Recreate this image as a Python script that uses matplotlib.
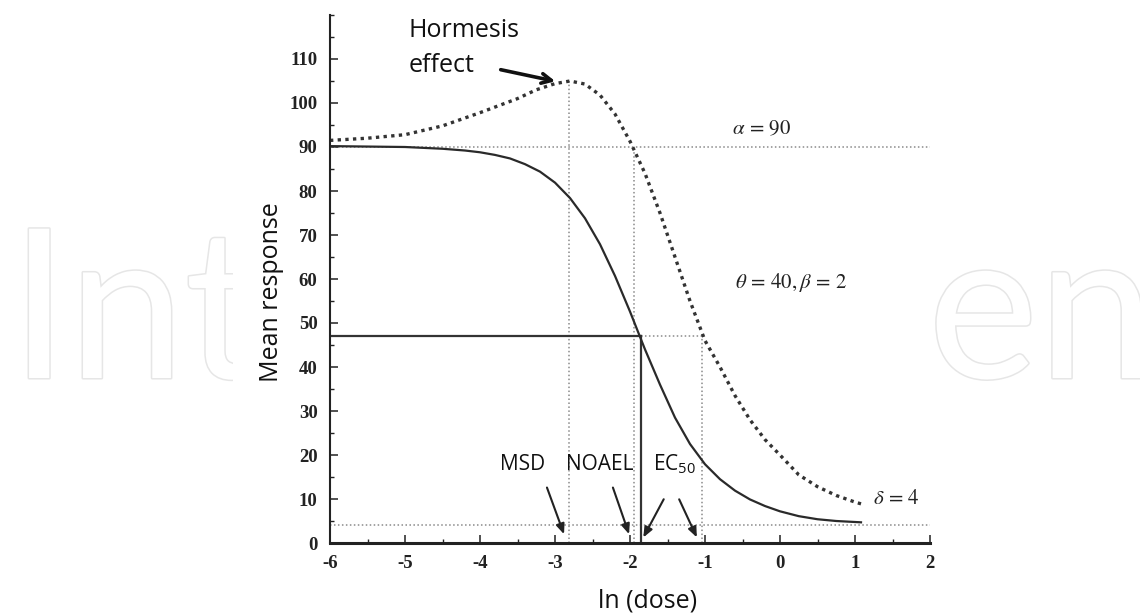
import matplotlib
matplotlib.use("Agg")
import matplotlib.pyplot as plt
import matplotlib.patheffects as pe
from matplotlib.ticker import MultipleLocator

plt.rcParams["axes.unicode_minus"] = False

# curves (x = ln dose, y = mean response)
logistic_x = [-6, -5.5, -5, -4.5, -4.2, -4.0, -3.8, -3.6, -3.4, -3.2, -3.0, -2.8, -2.6,
              -2.4, -2.2, -2.0, -1.87, -1.8, -1.6, -1.4, -1.2, -1.0, -0.8, -0.6,
              -0.4, -0.2, 0, 0.25, 0.5, 0.75, 1.08]
logistic_y = [90.2, 90.1, 90.0, 89.6, 89.2, 88.8, 88.2, 87.4, 86.1, 84.4, 81.9, 78.4, 73.8,
              67.9, 60.7, 52.6, 47.0, 44.0, 36.0, 28.5, 22.5, 17.9, 14.5, 11.9,
              9.9, 8.4, 7.2, 6.1, 5.4, 5.0, 4.7]

hormesis_x = [-6, -5.5, -5, -4.5, -4, -3.5, -3.25, -3, -2.8, -2.6, -2.4, -2.2, -2.0,
              -1.8, -1.6, -1.4, -1.2, -1.0, -0.8, -0.6, -0.4, -0.2, 0,
              0.25, 0.5, 0.75, 1.0, 1.08]
hormesis_y = [91.5, 92.0, 92.8, 94.8, 97.8, 101.0, 103.0, 104.4, 105.0, 104.3, 101.8, 97.5, 91.3,
              84.0, 75.0, 65.0, 55.0, 46.0, 40.0, 33.5, 28.0, 23.5, 20.0,
              15.5, 12.8, 10.8, 9.3, 8.9]

# reference levels / doses
alpha = 90
delta = 4
half_resp = 47
x_peak, y_peak = -2.81, 105
x_noael = -1.95
x_ec50 = -1.85
x_ec50_h = -1.04

xticks = [-6, -5, -4, -3, -2, -1, 0, 1, 2]
yticks = list(range(0, 111, 10))

W, H = 1140, 616
fig = plt.figure(figsize=(W / 100, H / 100), dpi=100)
fig.patch.set_facecolor("white")

# faint watermark behind the chart
wm = dict(fontsize=150, family="Lato", color="white", va="baseline", zorder=-3,
          path_effects=[pe.Stroke(linewidth=2.2, foreground="#e6e6e6"), pe.Normal()])
fig.text(10 / W, 1 - 378 / H, "Int", ha="left", **wm)
fig.text(928 / W, 1 - 378 / H, "en", ha="left", **wm)
fig.patches.append(plt.Rectangle((233 / W, 0), (935 - 233) / W, 1, transform=fig.transFigure,
                                 facecolor="white", edgecolor="none", zorder=-2))

ax = fig.add_axes([330 / W, 1 - 543 / H, 600 / W, 528 / H])
ax.set_facecolor("none")
ax.set_xlim(-6, 2)
ax.set_ylim(0, 120)
for s in ["top", "right"]:
    ax.spines[s].set_visible(False)
ax.spines["left"].set_linewidth(1.5)
ax.spines["bottom"].set_linewidth(2.2)
ax.spines["left"].set_color("#222222")
ax.spines["bottom"].set_color("#222222")

ax.set_xticks(xticks)
ax.set_yticks(yticks)
ax.xaxis.set_minor_locator(MultipleLocator(0.5))
ax.yaxis.set_minor_locator(MultipleLocator(5))
ax.tick_params(which="major", direction="in", length=6, width=1.1, color="#222222", pad=9)
ax.tick_params(which="minor", direction="in", length=3, width=1, color="#222222")
for lab in ax.get_xticklabels() + ax.get_yticklabels():
    lab.set_family("Liberation Serif")
    lab.set_fontweight("bold")
    lab.set_fontsize(13.5)
    lab.set_color("#222222")

grey = "#8a8a8a"
ref = dict(color=grey, lw=1.1, linestyle=(0, (1, 1.6)))
ax.plot([-6, 2], [alpha, alpha], **ref)
ax.plot([-6, 2], [delta, delta], **ref)
ax.plot([x_peak, x_peak], [0, y_peak], **ref)
ax.plot([x_noael, x_noael], [0, alpha], **ref)
ax.plot([x_ec50, x_ec50_h], [half_resp, half_resp], **ref)
ax.plot([x_ec50_h, x_ec50_h], [0, half_resp], **ref)

ax.plot([-6, x_ec50], [half_resp, half_resp], color="#333333", lw=1.6)
ax.plot([x_ec50, x_ec50], [0, half_resp], color="#333333", lw=1.6)

ax.plot(logistic_x, logistic_y, color="#2a2a2a", lw=1.6)
ax.plot(hormesis_x, hormesis_y, color="#333333", lw=2.4, linestyle=(0, (1, 1.3)))

# parameter labels
greek = dict(fontsize=15, color="#222222", math_fontfamily="stix", va="center")
ax.text(-0.64, 94.3, r"$\alpha\,=\,90$", **greek)
ax.text(-0.60, 59.1, r"$\theta\,=\,40,\beta\,=\,2$", **greek)
ax.text(1.24, 10.2, r"$\delta\,=\,4$", **greek)

# annotations
sans = dict(family="Open Sans", color="#111111")
ax.text(-4.95, 115, "Hormesis", fontsize=18, va="baseline", **sans)
ax.text(-4.95, 107, "effect", fontsize=18, va="baseline", **sans)
ax.annotate("", xy=(-2.96, 104.8), xytext=(-3.76, 107.7),
            arrowprops=dict(arrowstyle="->,head_length=0.7,head_width=0.35", lw=2.6, color="#111111"))

ax.text(-3.73, 16.6, "MSD", fontsize=15, va="baseline", **sans)
ax.text(-2.85, 16.6, "NOAEL", fontsize=15, va="baseline", **sans)
ax.text(-1.69, 16.6, r"EC$_{\mathregular{50}}$", fontsize=15, va="baseline", **sans)

arr = dict(arrowstyle="-|>,head_length=0.6,head_width=0.25", lw=1.5, color="#222222")
ax.annotate("", xy=(-2.867, 1.4), xytext=(-3.12, 13.2), arrowprops=arr)
ax.annotate("", xy=(-2.0, 1.4), xytext=(-2.24, 13.2), arrowprops=arr)
ax.annotate("", xy=(-1.84, 0.7), xytext=(-1.533, 10.5), arrowprops=arr)
ax.annotate("", xy=(-1.093, 0.7), xytext=(-1.36, 10.5), arrowprops=arr)

fig.text(271 / W, 1 - 292 / H, "Mean response", rotation=90, ha="center", va="center",
         fontsize=18, **sans)
fig.text(648 / W, 1 - 601 / H, "ln (dose)", ha="center", va="center", fontsize=18, **sans)

fig.savefig("out.png", dpi=100, facecolor="white")
